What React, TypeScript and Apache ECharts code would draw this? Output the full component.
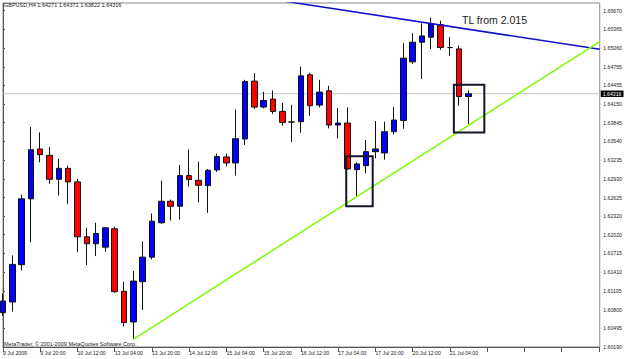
import React, { useEffect, useRef } from 'react';
import * as echarts from 'echarts';

const symbolName = 'GBPUSD';
const timeframe = 'H4';

// H4 bars from 9 Jul 2009 04:00 to 21 Jul 2009 12:00
const opens = [
  1.6075, 1.60923, 1.61531, 1.62604, 1.63417, 1.63313, 1.62922, 1.63101, 1.6288, 1.61986,
  1.61872, 1.61817, 1.62116, 1.61097, 1.60598, 1.61254, 1.61654, 1.62214, 1.62565, 1.62483,
  1.62983, 1.62906, 1.6282, 1.63075, 1.63287, 1.63189, 1.63579, 1.64522, 1.641, 1.6423,
  1.64028, 1.63856, 1.63861, 1.64625, 1.64132, 1.64364, 1.63807, 1.63839, 1.6308, 1.63145,
  1.63373, 1.63352, 1.63698, 1.63882, 1.64836, 1.65156, 1.65238, 1.65442, 1.65069, 1.65047,
  1.64271,
];
const highs = [
  1.61064, 1.61682, 1.62669, 1.63774, 1.63687, 1.63449, 1.63254, 1.63145, 1.62929, 1.62132,
  1.62214, 1.62142, 1.62149, 1.61254, 1.61427, 1.6191, 1.62365, 1.62901, 1.62592, 1.63156,
  1.63405, 1.6321, 1.63088, 1.6334, 1.6334, 1.64056, 1.64543, 1.64652, 1.64348, 1.64369,
  1.64165, 1.64137, 1.6476, 1.64657, 1.64543, 1.64446, 1.64083, 1.64093, 1.63199, 1.63563,
  1.63872, 1.63861, 1.641, 1.6514, 1.65303, 1.65465, 1.65556, 1.65507, 1.65238, 1.65101,
  1.64371,
];
const lows = [
  1.60695, 1.60767, 1.61438, 1.61898, 1.63199, 1.62848, 1.62657, 1.62522, 1.61736, 1.61524,
  1.61671, 1.61742, 1.61076, 1.60523, 1.60316, 1.60793, 1.61617, 1.62197, 1.62251, 1.62267,
  1.62809, 1.62549, 1.62376, 1.63043, 1.63134, 1.62983, 1.63482, 1.64067, 1.64077, 1.63986,
  1.63796, 1.6353, 1.63682, 1.63958, 1.64093, 1.63752, 1.63589, 1.6308, 1.6263, 1.6302,
  1.63264, 1.63243, 1.63649, 1.63747, 1.64803, 1.64555, 1.65042, 1.65031, 1.64934, 1.64121,
  1.63822,
];
const closes = [
  1.60939, 1.61536, 1.62604, 1.63405, 1.63324, 1.62922, 1.63101, 1.6288, 1.61986, 1.61872,
  1.6204, 1.62132, 1.61092, 1.60588, 1.61264, 1.61654, 1.6224, 1.62565, 1.62483, 1.62983,
  1.62918, 1.62825, 1.63069, 1.63292, 1.63189, 1.63584, 1.64516, 1.641, 1.64207, 1.64028,
  1.63849, 1.63856, 1.64608, 1.64121, 1.64343, 1.63807, 1.63839, 1.63092, 1.63173, 1.63373,
  1.63417, 1.63698, 1.63888, 1.64896, 1.65156, 1.65259, 1.65454, 1.65069, 1.65069, 1.64272,
  1.64316,
];

const timeTickLabels = [
  '9 Jul 2009', '9 Jul 20:00', '10 Jul 12:00', '13 Jul 04:00', '13 Jul 20:00', '14 Jul 12:00',
  '15 Jul 04:00', '15 Jul 20:00', '16 Jul 12:00', '17 Jul 04:00', '17 Jul 20:00', '20 Jul 12:00',
  '21 Jul 04:00',
];
const barsPerTick = 4;

const priceTicks = [
  1.6567, 1.65365, 1.6506, 1.64755, 1.64455, 1.6415, 1.63845, 1.6354, 1.63235, 1.6293,
  1.62625, 1.6232, 1.6202, 1.61715, 1.6141, 1.61105, 1.608, 1.60495, 1.6019,
];
const bidPrice = 1.64316;
const priceMin = 1.6019;
const priceMax = 1.65795;
const barSlots = 64.1;

const resistanceLine = [[30, 1.6583], [64.1, 1.6504]];
const supportLine = [[14, 1.60316], [64.1, 1.65166]];
const boxes = [
  [[36.87, 1.63296], [39.71, 1.62483]],
  [[48.43, 1.64462], [51.7, 1.63687]],
];
const annotation = 'TL from 2.015';
const copyright = 'MetaTrader, \u00a9 2001-2009 MetaQuotes Software Corp.';

const FONT = 'Liberation Sans';

export default function App() {
  const ref = useRef<HTMLDivElement>(null);
  useEffect(() => {
    if (!ref.current) return;
    const chart = echarts.init(ref.current, null, { renderer: 'svg' });
    const last = opens.length - 1;
    const header = `${symbolName},${timeframe} ${opens[last].toFixed(5)} ${highs[last].toFixed(5)} ${lows[last].toFixed(5)} ${closes[last].toFixed(5)}`;
    const candleData = opens.map((o, i) => [i, o, closes[i], lows[i], highs[i]]);
    chart.setOption({
      animation: false,
      backgroundColor: '#ffffff',
      textStyle: { fontFamily: FONT },
      grid: {
        left: 2, right: 22, top: 3, bottom: 12,
        show: true, borderColor: '#8a8a8a', borderWidth: 1, backgroundColor: 'transparent',
      },
      xAxis: {
        type: 'value', min: 0, max: barSlots, interval: barsPerTick,
        axisLine: { show: true, onZero: false, lineStyle: { color: '#555', width: 1 } },
        axisTick: { show: true, length: 5, lineStyle: { color: '#555' } },
        splitLine: { show: false },
        axisLabel: {
          formatter: (v: number) => {
            const k = v / barsPerTick;
            return Number.isInteger(k) && timeTickLabels[k] ? timeTickLabels[k] : '';
          },
          align: 'left', fontSize: 5.2, color: '#222', margin: 3, fontFamily: FONT,
          showMaxLabel: false,
        },
      },
      yAxis: {
        type: 'value', position: 'right', min: priceMin, max: priceMax,
        axisLine: { show: true, lineStyle: { color: '#555', width: 1 } },
        axisTick: { show: true, length: 2, customValues: priceTicks, lineStyle: { color: '#555' } },
        splitLine: { show: false },
        axisLabel: {
          customValues: priceTicks,
          formatter: (v: number) => v.toFixed(5),
          fontSize: 5.2, color: '#222', margin: 3.5, fontFamily: FONT,
        },
      },
      series: [
        {
          type: 'line', data: [[0, bidPrice], [barSlots, bidPrice]], z: 1, silent: true,
          showSymbol: false,
          lineStyle: { color: '#c4c4c4', width: 1 },
          endLabel: {
            show: true, formatter: bidPrice.toFixed(5),
            color: '#fff', backgroundColor: '#000', fontSize: 5.2, fontFamily: FONT,
            padding: [1, 2, 0.5, 2], distance: 1,
          },
        },
        {
          type: 'candlestick', data: candleData, encode: { x: 0, y: [1, 2, 3, 4] },
          barWidth: 6, z: 3, clip: true,
          itemStyle: {
            color: '#0000ff', color0: '#ff0000',
            borderColor: '#111', borderColor0: '#111', borderColorDoji: '#111', borderWidth: 1,
          },
        },
        {
          type: 'line', data: resistanceLine, z: 4, showSymbol: false, silent: true,
          lineStyle: { color: '#1010cc', width: 1.5 },
        },
        {
          type: 'line', data: supportLine, z: 4, showSymbol: false, silent: true,
          lineStyle: { color: '#7cfc00', width: 1.5 },
        },
        {
          type: 'line', data: [], z: 5, silent: true,
          markArea: {
            z: 5, silent: true,
            itemStyle: { color: 'rgba(0,0,0,0)', borderColor: '#14142a', borderWidth: 2 },
            data: boxes.map(([a, b]) => [{ coord: a }, { coord: b }]),
          },
        },
      ],
      graphic: [
        { type: 'text', left: 4, top: 2, z: 10, style: { text: header, fontSize: 5.5, fontFamily: FONT, fill: '#222' } },
        { type: 'text', left: 4, top: 341, z: 10, style: { text: copyright, fontSize: 5.5, fontFamily: FONT, fill: '#222' } },
        { type: 'text', left: 462, top: 14.5, z: 10, style: { text: annotation, fontSize: 10.5, fontFamily: FONT, fill: '#222' } },
      ],
    });
    return () => chart.dispose();
  }, []);
  return <div ref={ref} style={{ position: 'absolute', left: 0, top: 0, width: 625, height: 359 }} />;
}
